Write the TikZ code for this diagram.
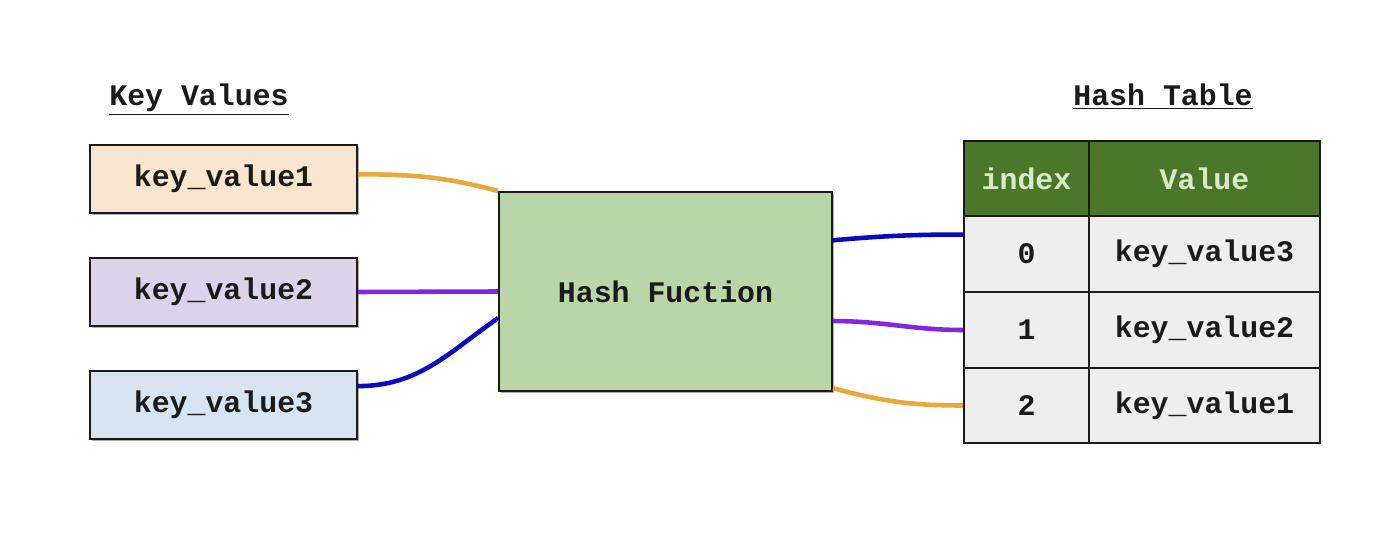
\documentclass[tikz,border=0pt]{standalone}
\usepackage{fontspec}
\setmainfont{Liberation Serif}
\setmonofont{Liberation Mono}
\usepackage{tikz}
\usetikzlibrary{shadows}
\definecolor{peach}{HTML}{FAE6CF}
\definecolor{lilac}{HTML}{DCD3EA}
\definecolor{sky}{HTML}{D7E5F3}
\definecolor{mint}{HTML}{BAD6A9}
\definecolor{leaf}{HTML}{4B772B}
\definecolor{pale}{HTML}{D8EBC8}
\definecolor{cellgray}{HTML}{EEEEEE}
\definecolor{cgold}{HTML}{E7A93B}
\definecolor{cviolet}{HTML}{8425E0}
\definecolor{cnavy}{HTML}{0A0ABF}
\definecolor{ink}{HTML}{1A1A1A}

\begin{document}
\begin{tikzpicture}[x=0.02cm, y=-0.02cm,
      txt/.style={font=\fontsize{17}{20}\selectfont\ttfamily\bfseries, text=ink},
      keybox/.style={txt, draw=ink, line width=1.1pt, minimum width=5.34cm,
                     minimum height=1.36cm,
                     drop shadow={shadow xshift=1.2pt, shadow yshift=-1.2pt,
                                  opacity=0.3, fill=black}},
      cellbox/.style={txt, draw=ink, line width=1.3pt, fill=cellgray,
                      minimum height=1.51cm, inner sep=0pt},
      headbox/.style={cellbox, fill=leaf, text=pale},
      link/.style={line width=2.6pt}]
      \useasboundingbox (0,0) rectangle (1378,540);
      \node[txt, anchor=base] (keyhead) at (199,106) {\underline{Key Values}};
      \node[txt, anchor=base] (tabhead) at (1163,106) {\underline{Hash Table}};
      \foreach \n/\y/\c in {1/179/peach,2/292/lilac,3/405/sky}
        \node[keybox, fill=\c] (k\n) at (223.5,\y) {key\_value\n};
      \node[keybox, fill=mint, minimum width=6.66cm, minimum height=3.98cm]
        (hash) at (665.5,291.5) {Hash Fuction};
      \node[headbox, minimum width=2.5cm] (hi) at (1026.5,178.5) {index};
      \node[headbox, minimum width=4.62cm] (hv) at (1204.5,178.5) {Value};
      \foreach \r/\y/\v in {0/254/3,1/330/2,2/405.5/1} {
        \node[cellbox, minimum width=2.5cm] (i\r) at (1026.5,\y) {\r};
        \node[cellbox, minimum width=4.62cm] (v\r) at (1204.5,\y) {key\_value\v};
      }
      \draw[link, cgold] (k1.2) to[out=0, in=165] (hash.north west);
      \draw[link, cviolet] (k2.east) -- (hash.west);
      \draw[link, cnavy] (k3.8) to[out=0, in=215] (hash.189);
      \draw[link, cnavy] (hash.17) to[out=5, in=180] (i0.163);
      \draw[link, cviolet] (hash.-10) to[out=0, in=180] (i1.west);
      \draw[link, cgold] (hash.-30) to[out=-15, in=180] (i2.west);
\end{tikzpicture}
\end{document}
